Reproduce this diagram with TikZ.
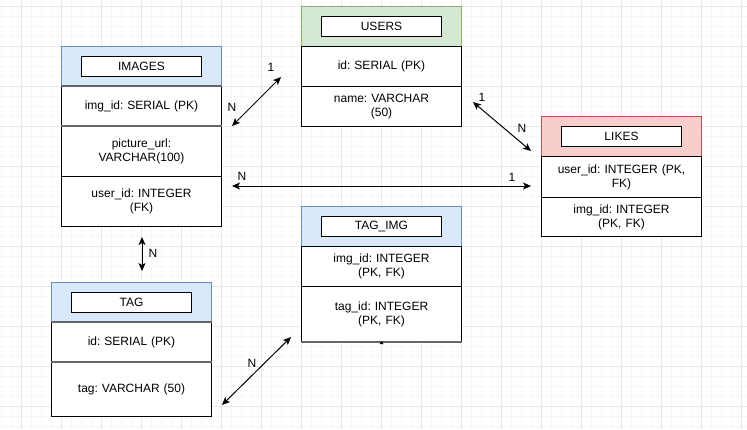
\documentclass[tikz,border=0pt]{standalone}
\usepackage{fontspec}
\setmainfont{Liberation Sans}
\usetikzlibrary{arrows.meta,calc}
\frenchspacing
\definecolor{gridmaj}{HTML}{E8E8E8}
\definecolor{gridmin}{HTML}{F6F6F6}
\definecolor{blueF}{HTML}{DAE8FC}
\definecolor{blueD}{HTML}{6C8EBF}
\definecolor{greenF}{HTML}{D5E8D4}
\definecolor{greenD}{HTML}{82B366}
\definecolor{redF}{HTML}{F8CECC}
\definecolor{redD}{HTML}{B85450}
\definecolor{sepgray}{HTML}{666666}
\tikzset{
  x=1pt,y=-1pt,
  every node/.style={font=\fontsize{12}{14}\selectfont\frenchspacing, text=black},
  hdr/.style={rectangle, anchor=north west, minimum width=160pt, minimum height=40pt, inner sep=0pt, line width=1pt},
  tbox/.style={rectangle, draw=black, fill=white, minimum width=120pt, minimum height=20pt, inner sep=0pt, line width=1pt},
  rowbox/.style={rectangle, draw=black, fill=white, anchor=north west, minimum width=160pt, inner sep=0pt, line width=1pt, align=center, text width=150pt},
  sep/.style={draw=sepgray, line width=1.6pt},
  rel/.style={line width=1pt, {Stealth[length=8pt,width=7pt,inset=2pt]}-{Stealth[length=8pt,width=7pt,inset=2pt]}},
  lbl/.style={inner sep=0pt},
}
\begin{document}
\begin{tikzpicture}
\useasboundingbox (0,0) rectangle (747,429);
\fill[white] (0,0) rectangle (747,429);
% grid
\foreach \x in {1,11,...,741} {\draw[gridmin, line width=0.8pt] (\x,0) -- (\x,429);}
\foreach \y in {6,16,...,426} {\draw[gridmin, line width=0.8pt] (0,\y) -- (747,\y);}
\foreach \x in {21,61,...,741} {\draw[gridmaj, line width=1pt] (\x,0) -- (\x,429);}
\foreach \y in {6,46,...,406} {\draw[gridmaj, line width=1pt] (0,\y) -- (747,\y);}

% IMAGES
\node[hdr, fill=blueF, draw=blueD] (imgH) at (61,46) {};
\node[tbox] (imgT) at (imgH.center) {IMAGES};
\node[rowbox, minimum height=40pt] (img1) at (61,86) {img\_id: SERIAL (PK)};
\node[rowbox, minimum height=50pt] (img2) at (61,126) {picture\_url:\\VARCHAR(100)};
\node[rowbox, minimum height=50pt] (img3) at (61,176) {user\_id: INTEGER\\(FK)};
\draw[sep] (img1.north west) -- (img1.north east);
\draw[sep] (img2.north west) -- (img2.north east);

% USERS
\node[hdr, fill=greenF, draw=greenD] (usrH) at (301,6) {};
\node[tbox] (usrT) at (usrH.center) {USERS};
\node[rowbox, minimum height=40pt] (usr1) at (301,46) {id: SERIAL (PK)};
\node[rowbox, minimum height=40pt] (usr2) at (301,86) {name: VARCHAR\\(50)};

% LIKES
\node[hdr, fill=redF, draw=redD] (likH) at (541,116) {};
\node[tbox] (likT) at (likH.center) {LIKES};
\node[rowbox, minimum height=41pt] (lik1) at (541,156) {user\_id: INTEGER (PK,\\FK)};
\node[rowbox, minimum height=39pt] (lik2) at (541,197) {img\_id: INTEGER\\(PK, FK)};

% TAG
\node[hdr, fill=blueF, draw=blueD] (tagH) at (51,282) {};
\node[tbox] (tagT) at (tagH.center) {TAG};
\node[rowbox, minimum height=40pt] (tag1) at (51,322) {id: SERIAL (PK)};
\node[rowbox, minimum height=54pt] (tag2) at (51,362) {tag: VARCHAR (50)};
\draw[sep] (tag1.north west) -- (tag1.north east);
\draw[sep] (tag2.north west) -- (tag2.north east);

% TAG_IMG
\node[hdr, fill=blueF, draw=blueD] (tiH) at (301,206) {};
\node[tbox] (tiT) at (tiH.center) {TAG\_IMG};
\node[rowbox, minimum height=40pt] (ti1) at (301,246) {img\_id: INTEGER\\(PK, FK)};
\node[rowbox, minimum height=55pt] (ti2) at (301,286) {tag\_id: INTEGER\\(PK, FK)};
\draw[draw=sepgray, line width=1.4pt] (ti2.south west) -- (ti2.south east);
\fill[black] ($(ti2.south)+(0,-1)$) -- ++(-2,3) -- ++(4,0) -- cycle;

% connectors
\coordinate (a1) at (232,126);
\coordinate (a2) at (281,77);
\draw[rel] (a1) -- (a2);
\node[lbl] at (271,67) {1};
\node[lbl] at (232,107) {N};

\coordinate (b1) at (473,102);
\coordinate (b2) at (531,151);
\draw[rel] (b1) -- (b2);
\node[lbl] at (482,97) {1};
\node[lbl] at (522,128) {N};

\coordinate (c1) at (232,186);
\coordinate (c2) at (531,186);
\draw[rel] (c1) -- (c2);
\node[lbl] at (242,176) {N};
\node[lbl] at (512,177) {1};

\coordinate (d1) at (142,237);
\coordinate (d2) at (142,271);
\draw[rel] (d1) -- (d2);
\node[lbl] at (153,253) {N};

\coordinate (e1) at (222,405);
\coordinate (e2) at (291,337);
\draw[rel] (e1) -- (e2);
\node[lbl] at (252,363) {N};
\end{tikzpicture}
\end{document}
